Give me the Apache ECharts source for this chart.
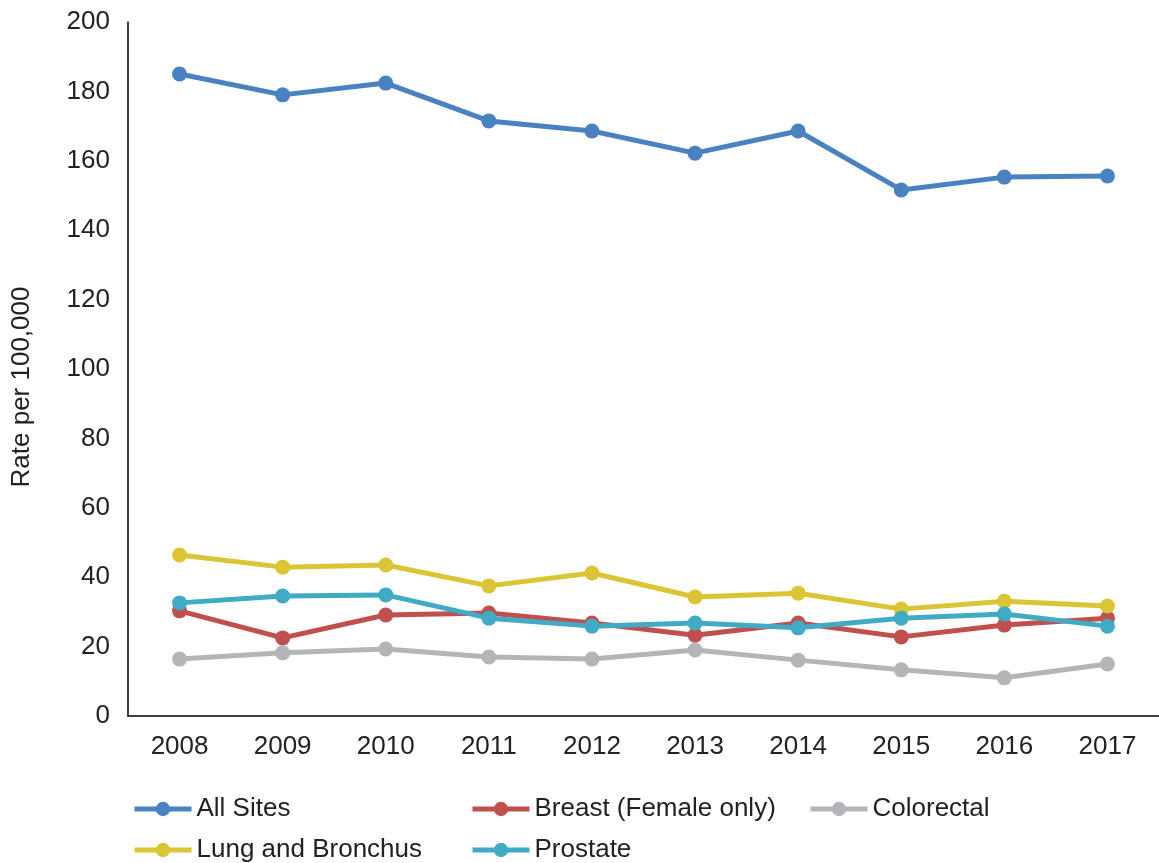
<!DOCTYPE html>
<html>
<head>
<meta charset="utf-8">
<script src="https://cdn.jsdelivr.net/npm/echarts@6/dist/echarts.min.js"></script>
<style>
  html, body { margin: 0; padding: 0; background: #fff; }
  #chart { width: 1159px; height: 863px; }
</style>
</head>
<body>
<div id="chart"></div>
<script>
const years = ["2008", "2009", "2010", "2011", "2012", "2013", "2014", "2015", "2016", "2017"];

const allSites = [185.0, 179.0, 182.4, 171.5, 168.6, 162.2, 168.6, 151.6, 155.3, 155.6];
const breast = [30.3, 22.5, 29.1, 29.7, 26.8, 23.3, 26.8, 22.8, 26.2, 28.2];
const colorectal = [16.4, 18.2, 19.3, 17.0, 16.4, 19.0, 16.1, 13.3, 11.0, 15.0];
const lung = [46.4, 42.9, 43.5, 37.5, 41.2, 34.3, 35.4, 30.8, 33.1, 31.7];
const prostate = [32.6, 34.6, 34.9, 28.2, 25.9, 26.8, 25.4, 28.2, 29.4, 25.9];

const font = "Liberation Sans, Arial, sans-serif";
const textColor = "#222";

const chart = echarts.init(document.getElementById("chart"));

function line(name, data, color) {
    return {
        name: name,
        type: "line",
        data: data,
        symbol: "circle",
        symbolSize: 15,
        lineStyle: { width: 5, color: color },
        itemStyle: { color: color },
        animation: false
    };
}

const legendBase = {
    orient: "vertical",
    top: 796,
    height: 200,
    padding: 0,
    itemGap: 15,
    itemWidth: 57,
    itemHeight: 18,
    lineStyle: { width: 5 },
    textStyle: { fontFamily: font, fontSize: 26, color: textColor },
    selectedMode: false
};

chart.setOption({

    animation: false,

    grid: {
        left: 128,
        top: 22,
        bottom: 147,
        width: 1035
    },

    legend: [
        Object.assign({}, legendBase, { left: 132, data: ["All Sites", "Lung and Bronchus"] }),
        Object.assign({}, legendBase, { left: 470, data: ["Breast (Female only)", "Prostate"] }),
        Object.assign({}, legendBase, { left: 808, data: ["Colorectal"] })
    ],

    xAxis: {
        type: "category",
        data: years,
        boundaryGap: true,
        axisLine: { lineStyle: { color: "#000", width: 1.5 } },
        axisTick: { show: false },
        axisLabel: { fontFamily: font, fontSize: 26, color: textColor, margin: 18 }
    },

    yAxis: {
        type: "value",
        min: 0,
        max: 200,
        interval: 20,
        name: "Rate per 100,000",
        nameLocation: "middle",
        nameGap: 93,
        nameTextStyle: { fontFamily: font, fontSize: 26, color: textColor, padding: [0, 36, 0, 0] },
        axisLine: { show: true, lineStyle: { color: "#000", width: 1.5 } },
        axisTick: { show: false },
        splitLine: { show: false },
        axisLabel: { fontFamily: font, fontSize: 26, color: textColor, margin: 18 }
    },

    series: [
        line("All Sites", allSites, "#4a81c0"),
        line("Breast (Female only)", breast, "#c0504d"),
        line("Colorectal", colorectal, "#b4b5b9"),
        line("Lung and Bronchus", lung, "#dcc534"),
        line("Prostate", prostate, "#41abc6")
    ]

});
</script>
</body>
</html>
